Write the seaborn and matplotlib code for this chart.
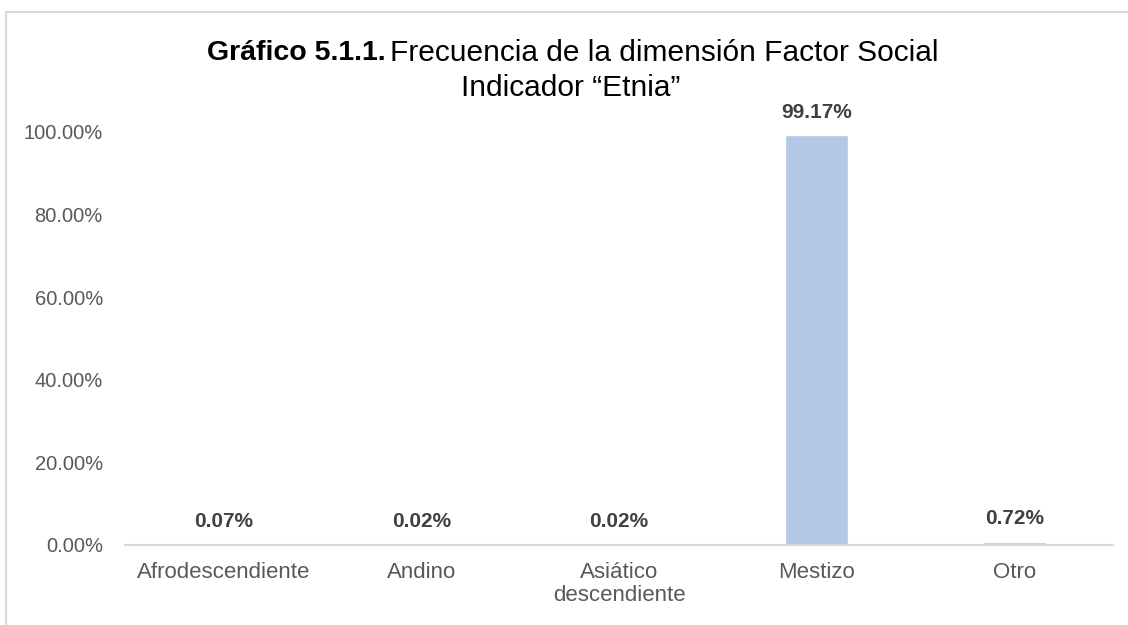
import pandas as pd
import numpy as np
import seaborn as sns
import matplotlib.pyplot as plt
from matplotlib.lines import Line2D

# Data
categorias = ["Afrodescendiente", "Andino", "Asiático\ndescendiente", "Mestizo", "Otro"]
porcentajes = [0.07, 0.02, 0.02, 99.17, 0.72]
etiquetas = ["0.07%", "0.02%", "0.02%", "99.17%", "0.72%"]
yticks = [0, 20, 40, 60, 80, 100]

df = pd.DataFrame({"categoria": categorias, "pct": porcentajes})

sns.set_style("white")
plt.rcParams['font.family'] = ['Liberation Sans', 'DejaVu Sans']

fig = plt.figure(figsize=(11.28, 6.25), dpi=100)
ax = fig.add_axes([125/1128, 1 - 545/625, (1113 - 125)/1128, (545 - 132)/625])

sns.barplot(data=df, x="categoria", y="pct", color="#b4c7e7", width=0.32,
            saturation=1, ax=ax)

# -------- Data labels --------
for i, (v, t) in enumerate(zip(porcentajes, etiquetas)):
    ax.annotate(t, (i, v), xytext=(0, 10), textcoords="offset points",
                ha="center", va="bottom", fontsize=15, fontweight="bold",
                color="#404040", annotation_clip=False)

# -------- Axes --------
ax.set_ylim(0, 100)
ax.set_yticks(yticks)
ax.set_yticklabels([f"{v:.2f}%" for v in yticks])
ax.set_xlabel("")
ax.set_ylabel("")
for s in ["top", "right", "left"]:
    ax.spines[s].set_visible(False)
ax.spines["bottom"].set_color("#d9d9d9")
ax.spines["bottom"].set_linewidth(1.5)
ax.tick_params(axis="y", length=0, pad=16, labelsize=14.5, labelcolor="#595959")
ax.tick_params(axis="x", length=0, pad=12, labelsize=16, labelcolor="#595959")
for lbl in ax.get_xticklabels():
    lbl.set_linespacing(1.15)

# -------- Title --------
fig.text(386/1128, 1 - 53/625, "Gráfico 5.1.1.", ha="right", va="center",
         fontsize=20.5, fontweight="bold", color="black")
fig.text(390/1128, 1 - 53/625, "Frecuencia de la dimensión Factor Social",
         ha="left", va="center", fontsize=21.5, color="black")
fig.text(571/1128, 1 - 88/625, "Indicador “Etnia”", ha="center", va="center",
         fontsize=21.5, color="black")

# -------- Chart border (top & left visible) --------
fig.add_artist(Line2D([6/1128, 1.0], [1 - 12/625, 1 - 12/625],
                      transform=fig.transFigure, color="#d9d9d9", lw=1.5))
fig.add_artist(Line2D([6/1128, 6/1128], [0.0, 1 - 12/625],
                      transform=fig.transFigure, color="#d9d9d9", lw=1.5))

fig.savefig("out.png", dpi=100, facecolor="white")
